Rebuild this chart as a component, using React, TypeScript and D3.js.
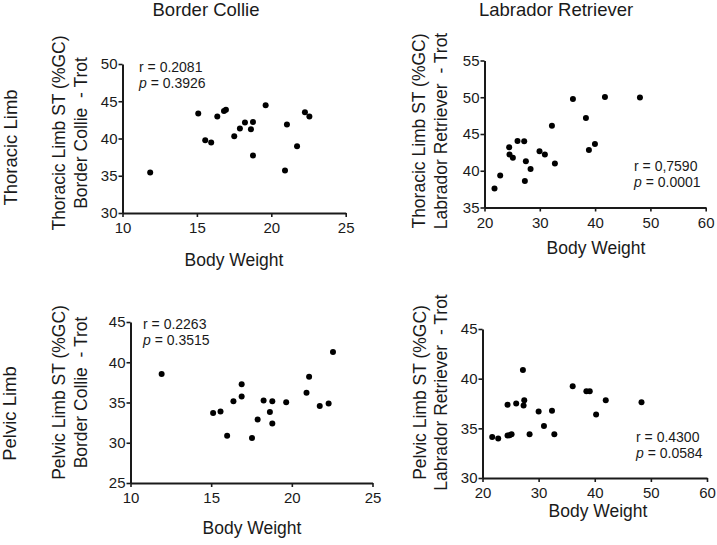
import React, { useEffect, useRef } from "react";
import * as d3 from "d3";

const FONT = "'Liberation Sans', Arial, Helvetica, sans-serif";
const INK = "#1a1a1a";

const colTitles = ["Border Collie", "Labrador Retriever"];
const rowTitles = ["Thoracic Limb", "Pelvic Limb"];
const xAxisTitle = "Body Weight";

// Border Collie – Thoracic limb
const bcThoracicWeight = [11.86, 15.09, 15.56, 15.96, 16.37, 16.82, 16.95, 17.51, 17.89, 18.23, 18.63, 18.77, 18.77, 19.62, 20.92, 21.05, 21.73, 22.26, 22.56];
const bcThoracicST = [35.45, 43.35, 39.78, 39.46, 42.95, 43.7, 43.85, 40.31, 41.34, 42.14, 41.25, 42.23, 37.72, 44.46, 35.71, 41.88, 38.97, 43.53, 42.95];

// Labrador Retriever – Thoracic limb
const lrThoracicWeight = [21.81, 22.84, 24.46, 24.52, 25.13, 25.97, 27.18, 27.3, 27.48, 28.33, 29.95, 30.92, 32.19, 32.73, 35.99, 38.34, 38.88, 39.97, 41.78, 48.11];
const lrThoracicST = [37.57, 39.37, 43.2, 42.2, 41.76, 44.05, 44.0, 38.6, 41.3, 40.23, 42.66, 42.2, 46.12, 41.0, 49.77, 47.16, 42.84, 43.65, 50.05, 49.95];

// Border Collie – Pelvic limb
const bcPelvicWeight = [11.93, 15.12, 15.58, 15.99, 16.38, 16.89, 16.89, 17.53, 17.88, 18.25, 18.64, 18.79, 18.79, 19.65, 20.91, 21.07, 21.73, 22.28, 22.55];
const bcPelvicST = [38.53, 33.7, 33.87, 30.88, 35.17, 37.27, 35.76, 30.59, 32.9, 35.25, 33.82, 35.17, 32.39, 35.04, 36.22, 38.19, 34.58, 34.87, 41.26];

// Labrador Retriever – Pelvic limb
const lrPelvicWeight = [21.73, 22.8, 24.46, 24.82, 25.18, 24.46, 26.0, 27.2, 27.44, 27.32, 28.39, 30.0, 30.95, 32.38, 32.8, 36.07, 38.51, 39.11, 40.24, 41.96, 48.33];
const lrPelvicST = [34.13, 33.97, 34.27, 34.3, 34.4, 37.37, 37.5, 40.87, 37.83, 37.3, 34.4, 36.7, 35.23, 36.77, 34.4, 39.23, 38.73, 38.73, 36.4, 37.83, 37.63];

const bcXTicks = [10, 15, 20, 25];
const lrXTicks = [20, 30, 40, 50, 60];
const thoracicBcYTicks = [30, 35, 40, 45, 50];
const thoracicLrYTicks = [35, 40, 45, 50, 55];
const pelvicBcYTicks = [25, 30, 35, 40, 45];
const pelvicLrYTicks = [30, 35, 40, 45];

const stats = [
  { r: "0.2081", p: "0.3926" },
  { r: "0,7590", p: "0.0001" },
  { r: "0.2263", p: "0.3515" },
  { r: "0.4300", p: "0.0584" },
];

const yLabels = [
  ["Thoracic Limb ST (%GC)", "Border Collie  - Trot"],
  ["Thoracic Limb ST (%GC)", "Labrador Retriever  - Trot"],
  ["Pelvic Limb ST (%GC)", "Border Collie  - Trot"],
  ["Pelvic Limb ST (%GC)", "Labrador Retriever  - Trot"],
];

const panels = [
  {
    xs: bcThoracicWeight, ys: bcThoracicST, xTicks: bcXTicks, yTicks: thoracicBcYTicks,
    xRange: [122.5, 345.7], yRange: [213, 64],
    stat: stats[0], statPos: [139, 72], yLab: yLabels[0], yLabX: [65, 87], yLabY: 133,
    xLabPos: [234, 266],
  },
  {
    xs: lrThoracicWeight, ys: lrThoracicST, xTicks: lrXTicks, yTicks: thoracicLrYTicks,
    xRange: [484.5, 705.7], yRange: [207.5, 60.5],
    stat: stats[1], statPos: [634, 171], yLab: yLabels[1], yLabX: [425, 447], yLabY: 131,
    xLabPos: [596, 254],
  },
  {
    xs: bcPelvicWeight, ys: bcPelvicST, xTicks: bcXTicks, yTicks: pelvicBcYTicks,
    xRange: [130.5, 372.5], yRange: [483, 322],
    stat: stats[2], statPos: [143, 328.5], yLab: yLabels[2], yLabX: [65, 87], yLabY: 392.5,
    xLabPos: [252, 534],
  },
  {
    xs: lrPelvicWeight, ys: lrPelvicST, xTicks: lrXTicks, yTicks: pelvicLrYTicks,
    xRange: [482.5, 707], yRange: [478, 329],
    stat: stats[3], statPos: [636, 442], yLab: yLabels[3], yLabX: [426, 447], yLabY: 392.5,
    xLabPos: [598, 517],
  },
];

function Panel({ cfg }: { cfg: any }) {
  const gx = useRef<SVGGElement>(null);
  const gy = useRef<SVGGElement>(null);
  const xDom = [cfg.xTicks[0], cfg.xTicks[cfg.xTicks.length - 1]];
  const yDom = [cfg.yTicks[0], cfg.yTicks[cfg.yTicks.length - 1]];
  const x = d3.scaleLinear().domain(xDom).range(cfg.xRange);
  const y = d3.scaleLinear().domain(yDom).range(cfg.yRange);

  useEffect(() => {
    const style = (sel: any) => {
      sel.select(".domain").attr("stroke", INK).attr("stroke-width", 2);
      sel.selectAll(".tick line").attr("stroke", INK).attr("stroke-width", 1.6);
      sel.selectAll(".tick text").attr("fill", INK).attr("font-size", 15).attr("font-family", FONT);
    };
    const ax = d3.axisBottom(x).tickValues(cfg.xTicks).tickSize(4).tickSizeOuter(0).tickPadding(5.5).tickFormat(d3.format("d"));
    const ay = d3.axisLeft(y).tickValues(cfg.yTicks).tickSize(4).tickSizeOuter(0).tickPadding(1).tickFormat(d3.format("d"));
    const sx = d3.select(gx.current);
    sx.call(ax as any);
    style(sx);
    const sy = d3.select(gy.current);
    sy.call(ay as any);
    style(sy);
  }, []);

  return (
    <g>
      <g ref={gx} transform={`translate(0,${cfg.yRange[0]})`} />
      <g ref={gy} transform={`translate(${cfg.xRange[0]},0)`} />
      {cfg.xs.map((v: number, i: number) => (
        <circle key={i} cx={x(v)} cy={y(cfg.ys[i])} r={3} fill="#000" />
      ))}
      <text x={cfg.statPos[0]} y={cfg.statPos[1]} fontSize={14} fontFamily={FONT} fill={INK}>
        r = {cfg.stat.r}
      </text>
      <text x={cfg.statPos[0]} y={cfg.statPos[1] + 16} fontSize={14} fontFamily={FONT} fill={INK}>
        <tspan fontStyle="italic">p</tspan> = {cfg.stat.p}
      </text>
      {cfg.yLab.map((t: string, i: number) => (
        <text
          key={i}
          transform={`translate(${cfg.yLabX[i]},${cfg.yLabY}) rotate(-90)`}
          textAnchor="middle"
          fontSize={17.5}
          fontFamily={FONT}
          fill={INK}
          style={{ whiteSpace: "pre" }}
        >
          {t}
        </text>
      ))}
      <text x={cfg.xLabPos[0]} y={cfg.xLabPos[1]} textAnchor="middle" fontSize={17.5} fontFamily={FONT} fill={INK}>
        {xAxisTitle}
      </text>
    </g>
  );
}

export default function App() {
  return (
    <svg width={717} height={545} style={{ position: "absolute", left: 0, top: 0, background: "#fff" }}>
      <rect x={0} y={0} width={717} height={545} fill="#fff" />
      <text x={206} y={16} textAnchor="middle" fontSize={18.5} fontFamily={FONT} fill={INK}>{colTitles[0]}</text>
      <text x={556} y={16} textAnchor="middle" fontSize={18.5} fontFamily={FONT} fill={INK}>{colTitles[1]}</text>
      <text transform="translate(16.5,147.5) rotate(-90)" textAnchor="middle" fontSize={18.5} fontFamily={FONT} fill={INK}>{rowTitles[0]}</text>
      <text transform="translate(16,413.5) rotate(-90)" textAnchor="middle" fontSize={18.5} fontFamily={FONT} fill={INK}>{rowTitles[1]}</text>
      {panels.map((p, i) => (
        <Panel key={i} cfg={p} />
      ))}
    </svg>
  );
}
